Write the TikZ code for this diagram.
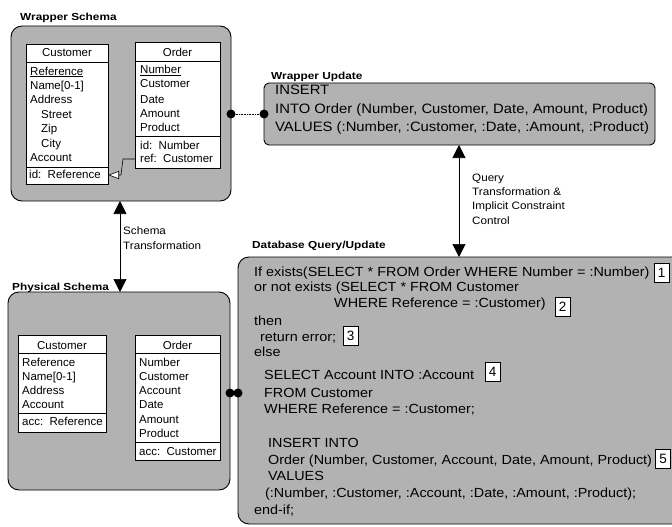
\documentclass[tikz,border=0pt]{standalone}
\usepackage{fontspec}
\setmainfont{Liberation Sans}
\newfontfamily\widefont[FakeStretch=1.09]{Liberation Sans}
\newfontfamily\titlefont[FakeStretch=1.16]{Liberation Sans}
\usetikzlibrary{arrows.meta}
\definecolor{panelgray}{RGB}{178,178,178}
\begin{document}
\begin{tikzpicture}[x=1pt,y=-1pt,
  panel/.style={draw=black, line width=0.9pt, fill=panelgray, rounded corners=11pt, inner sep=0pt, outer sep=0pt},
  tbl/.style={draw=black, line width=0.6pt, fill=white, inner sep=0pt, outer sep=0pt},
  sep/.style={line width=0.6pt},
  ttl/.style={font=\titlefont\bfseries\fontsize{10.2}{12}\selectfont, anchor=base west, inner sep=0pt},
  row/.style={font=\fontsize{11.5}{13}\selectfont, anchor=base west, inner sep=0pt},
  hdr/.style={font=\fontsize{11.5}{13}\selectfont, anchor=base, inner sep=0pt},
  code/.style={font=\widefont\fontsize{13.2}{15}\selectfont, anchor=base west, inner sep=0pt},
  wcode/.style={font=\widefont\fontsize{13.6}{15}\selectfont, anchor=base west, inner sep=0pt},
  lbl/.style={font=\widefont\fontsize{10.7}{12}\selectfont, anchor=base west, inner sep=0pt},
  numbox/.style={draw=black, line width=0.6pt, fill=white, font=\fontsize{13.5}{15}\selectfont, inner sep=0pt, minimum width=15pt, minimum height=19pt},
  dot/.style={circle, fill=black, inner sep=0pt, minimum size=9pt},
  twoway/.style={{Triangle[width=13pt,length=13pt]}-{Triangle[width=13pt,length=13pt]}, line width=0.7pt},
]
\fill[white] (0,0) rectangle (672,527);
\useasboundingbox (0,0) rectangle (672,527);

% ---------- panels ----------
\node[panel, minimum width=220pt, minimum height=175pt] (ws) at (121,113.5) {};
\node[panel, rounded corners=5pt, minimum width=391pt, minimum height=62pt] (wu) at (459.5,114) {};
\node[panel, minimum width=222pt, minimum height=198pt] (ps) at (119,391) {};
\node[panel, minimum width=450pt, minimum height=267pt] (db) at (463,390.5) {};

% ---------- titles ----------
\node[ttl] (tws) at (20,21) {Wrapper Schema};
\node[ttl] (twu) at (271,79) {Wrapper Update};
\node[ttl] (tps) at (12,290.5) {Physical Schema};
\node[ttl] (tdb) at (252,248) {Database Query/Update};

% ---------- wrapper schema tables ----------
\node[tbl, minimum width=82pt, minimum height=140pt] (wcust) at (67,114) {};
\draw[sep] (wcust.west |- 0,62) -- (wcust.east |- 0,62);
\draw[sep] (wcust.west |- 0,167) -- (wcust.east |- 0,167);
\node[hdr] (wc0) at (67,57) {Customer};
\node[row] (wc1) at (30,75) {\underline{Reference}};
\node[row] (wc2) at (30,89) {Name[0-1]};
\node[row] (wc3) at (30,103) {Address};
\node[row] (wc4) at (41,118) {Street};
\node[row] (wc5) at (41,132) {Zip};
\node[row] (wc6) at (41,147) {City};
\node[row] (wc7) at (30,161) {Account};
\node[row] (wc8) at (29,178) {id:\ \ Reference};

\node[tbl, minimum width=85pt, minimum height=126pt] (word) at (177.5,105) {};
\draw[sep] (word.west |- 0,61) -- (word.east |- 0,61);
\draw[sep] (word.west |- 0,136) -- (word.east |- 0,136);
\node[hdr] (wo0) at (177.5,57) {Order};
\node[row] (wo1) at (140,74) {\underline{Number}};
\node[row] (wo2) at (140,88) {Customer};
\node[row] (wo3) at (140,103) {Date};
\node[row] (wo4) at (140,117) {Amount};
\node[row] (wo5) at (140,131) {Product};
\node[row] (wo6) at (140,149) {id:\ \ Number};
\node[row] (wo7) at (140,162) {ref:\ \ Customer};

\coordinate (rb1) at (123,159);
\coordinate (rb2) at (121,175);
\draw[line width=0.6pt, -{Triangle[open, fill=white, width=8pt, length=11pt]}]
  (word.west |- rb1) -- (rb1) -- (rb2) -- (wcust.east |- rb2);

% ---------- physical schema tables ----------
\node[tbl, minimum width=88pt, minimum height=97pt] (pcust) at (62,383.5) {};
\draw[sep] (pcust.west |- 0,353) -- (pcust.east |- 0,353);
\draw[sep] (pcust.west |- 0,413) -- (pcust.east |- 0,413);
\node[hdr] (pc0) at (62,349) {Customer};
\node[row] (pc1) at (22,366) {Reference};
\node[row] (pc2) at (22,380) {Name[0-1]};
\node[row] (pc3) at (22,394) {Address};
\node[row] (pc4) at (22,408) {Account};
\node[row] (pc5) at (22,425) {acc:\ \ Reference};

\node[tbl, minimum width=85pt, minimum height=125pt] (pord) at (177.5,397.5) {};
\draw[sep] (pord.west |- 0,353) -- (pord.east |- 0,353);
\draw[sep] (pord.west |- 0,442) -- (pord.east |- 0,442);
\node[hdr] (po0) at (177.5,349) {Order};
\node[row] (po1) at (139,366) {Number};
\node[row] (po2) at (139,380) {Customer};
\node[row] (po3) at (139,394) {Account};
\node[row] (po4) at (139,408) {Date};
\node[row] (po5) at (139,423) {Amount};
\node[row] (po6) at (139,437) {Product};
\node[row] (po7) at (139,455) {acc:\ \ Customer};

% ---------- wrapper update text ----------
\node[wcode] (wu1) at (275,94) {INSERT};
\node[wcode] (wu2) at (275,113) {INTO Order (Number, Customer, Date, Amount, Product)};
\node[wcode] (wu3) at (275,131.5) {VALUES (:Number, :Customer, :Date, :Amount, :Product)};

% ---------- database query text ----------
\node[code] (q1) at (254,276.7) {If exists(SELECT * FROM Order WHERE Number = :Number)};
\node[code] (q2) at (254,291.7) {or not exists (SELECT * FROM Customer};
\node[code] (q3) at (334,307.7) {WHERE Reference = :Customer)};
\node[code] (q4) at (254,325.7) {then};
\node[code] (q5) at (260,341.7) {return error;};
\node[code] (q6) at (254,356.7) {else};
\node[code] (q7) at (264,379.7) {SELECT Account INTO :Account};
\node[code] (q8) at (264,397.7) {FROM Customer};
\node[code] (q9) at (264,413.7) {WHERE Reference = :Customer;};
\node[code] (q10) at (268,447.7) {INSERT INTO};
\node[code] (q11) at (268,464.7) {Order (Number, Customer, Account, Date, Amount, Product)};
\node[code] (q12) at (268,480.7) {VALUES};
\node[code] (q13) at (265,497.7) {(:Number, :Customer, :Account, :Date, :Amount, :Product);};
\node[code] (q14) at (254,514.7) {end-if;};

\node[numbox] (n1) at (661.5,273) {1};
\node[numbox] (n2) at (562.5,307) {2};
\node[numbox] (n3) at (350.5,336) {3};
\node[numbox] (n4) at (492.5,372) {4};
\node[numbox] (n5) at (663,459) {5};

% ---------- connectors ----------
\node[dot] (d1) at (ws.east |- 0,114) {};
\node[dot] (d2) at (wu.west |- 0,114) {};
\draw[line width=0.6pt, densely dotted] (d1) -- (d2);

\node[dot] (d3) at (ps.east |- 0,393) {};
\node[dot] (d4) at (db.west |- 0,393) {};

\draw[twoway] (ws.south -| 120,0) -- (ps.north -| 120,0);
\node[lbl] (l1) at (123,234) {Schema};
\node[lbl] (l2) at (123,249.7) {Transformation};

\draw[twoway] (wu.south -| 459,0) -- (db.north -| 459,0);
\node[lbl] (l3) at (472,181) {Query};
\node[lbl] (l4) at (472,195.7) {Transformation \&};
\node[lbl] (l5) at (472,209.7) {Implicit Constraint};
\node[lbl] (l6) at (472,224.3) {Control};
\end{tikzpicture}
\end{document}
